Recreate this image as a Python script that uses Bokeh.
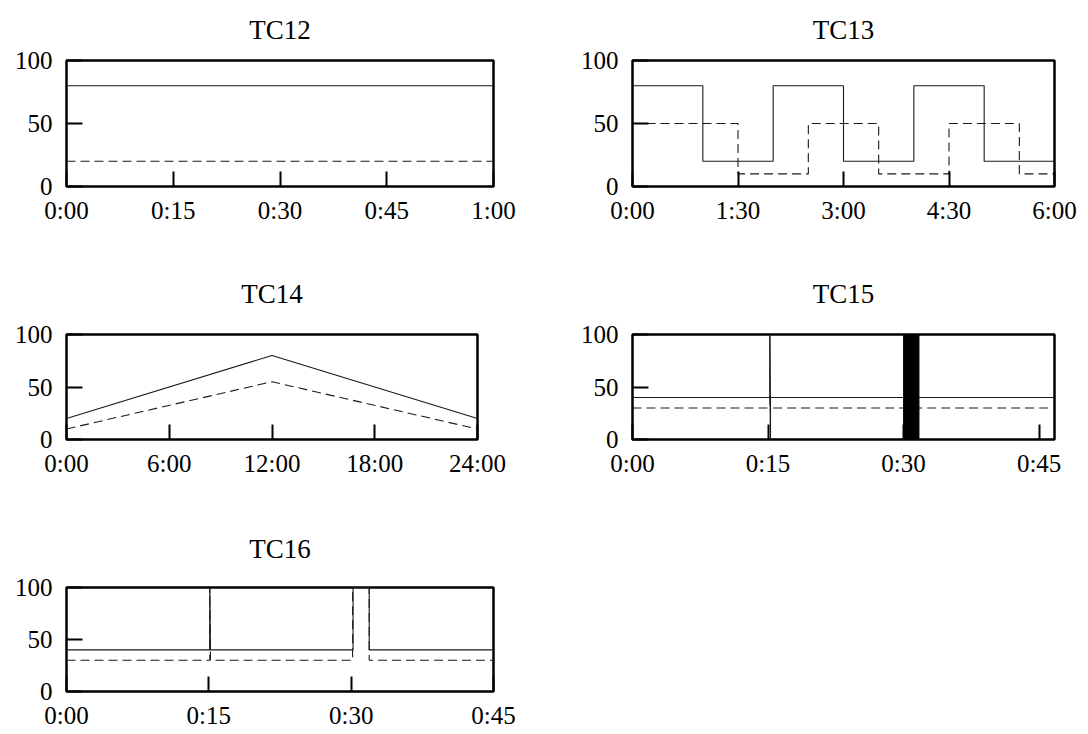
from bokeh.plotting import figure
from bokeh.layouts import column, row
from bokeh.models import Range1d, FixedTicker
from bokeh.embed import file_html
from bokeh.resources import INLINE

# ---------------- data (x in minutes, y in %) ----------------
y_ticks = [0, 50, 100]

# TC12
tc12_t_solid = [0, 60]
tc12_v_solid = [80, 80]
tc12_t_dash = [0, 60]
tc12_v_dash = [20, 20]
tc12_ticks = [0, 15, 30, 45, 60]
tc12_labels = ["0:00", "0:15", "0:30", "0:45", "1:00"]

# TC13
tc13_t_solid = [0, 60, 60, 120, 120, 180, 180, 240, 240, 300, 300, 360]
tc13_v_solid = [80, 80, 20, 20, 80, 80, 20, 20, 80, 80, 20, 20]
tc13_t_dash = [0, 90, 90, 150, 150, 210, 210, 270, 270, 330, 330, 360]
tc13_v_dash = [50, 50, 10, 10, 50, 50, 10, 10, 50, 50, 10, 10]
tc13_ticks = [0, 90, 180, 270, 360]
tc13_labels = ["0:00", "1:30", "3:00", "4:30", "6:00"]

# TC14
tc14_t_solid = [0, 720, 1440]
tc14_v_solid = [20, 80, 20]
tc14_t_dash = [0, 720, 1440]
tc14_v_dash = [10, 55, 10]
tc14_ticks = [0, 360, 720, 1080, 1440]
tc14_labels = ["0:00", "6:00", "12:00", "18:00", "24:00"]

# TC15
tc15_t_solid = [0, 15.2, 15.2, 15.27, 15.27, 30.0, 31.7, 46.7]
tc15_v_solid = [40, 40, 100, 0, 40, 40, 40, 40]
tc15_t_dash = [0, 15.2, 15.2, 15.27, 15.27, 30.0, 31.7, 46.7]
tc15_v_dash = [30, 30, 100, 0, 30, 30, 30, 30]
tc15_burst_start = [30.0]
tc15_burst_end = [31.7]
tc15_burst_low = [0]
tc15_burst_high = [100]
tc15_ticks = [0, 15, 30, 45]
tc15_labels = ["0:00", "0:15", "0:30", "0:45"]

# TC16
tc16_t_solid = [0, 15.1, 15.1, 15.17, 30.2, 30.2, 31.9, 31.9, 45]
tc16_v_solid = [40, 40, 100, 40, 40, 100, 100, 40, 40]
tc16_t_dash = [0, 15.1, 15.1, 15.17, 30.15, 30.15, 31.9, 31.9, 45]
tc16_v_dash = [30, 30, 100, 30, 30, 100, 100, 30, 30]
tc16_ticks = [0, 15, 30, 45]
tc16_labels = ["0:00", "0:15", "0:30", "0:45"]

FONT = "Liberation Serif"
LINE = "#1a1a1a"


def make_fig(title, x_end, ticks, labels, width, height, left, right, top, bottom, standoff):
    p = figure(width=width, height=height, output_backend="svg", toolbar_location=None,
               x_range=Range1d(0, x_end), y_range=Range1d(0, 100),
               min_border_left=left, min_border_right=right,
               min_border_top=top, min_border_bottom=bottom)
    p.title.text = title
    p.title.align = "center"
    p.title.vertical_align = "top"
    p.title.text_font = FONT
    p.title.text_font_size = "27px"
    p.title.text_font_style = "normal"
    p.title.text_color = "black"
    p.title.standoff = standoff
    p.xgrid.visible = False
    p.ygrid.visible = False
    p.outline_line_color = "black"
    p.outline_line_width = 2.5
    p.background_fill_color = "white"
    p.border_fill_color = "white"

    p.xaxis.ticker = FixedTicker(ticks=ticks)
    p.xaxis.major_label_overrides = {t: l for t, l in zip(ticks, labels)}
    p.yaxis.ticker = FixedTicker(ticks=y_ticks)
    for ax in (p.xaxis, p.yaxis):
        ax.axis_line_color = None
        ax.major_tick_line_color = "black"
        ax.major_tick_line_width = 2
        ax.major_tick_out = 0
        ax.minor_tick_line_color = None
        ax.major_label_text_font = FONT
        ax.major_label_text_font_size = "25px"
        ax.major_label_text_color = "black"
    p.xaxis.major_tick_in = 15
    p.yaxis.major_tick_in = 16
    p.xaxis.major_label_standoff = 10
    p.yaxis.major_label_standoff = 14
    return p


def add_lines(p, ts, vs, td, vd):
    p.line(ts, vs, line_color=LINE, line_width=1.1)
    p.line(td, vd, line_color=LINE, line_width=1.1, line_dash="9 5")


# Row 1
p12 = make_fig("TC12", 60, tc12_ticks, tc12_labels, 520, 242, 66, 27, 60, 56, 28)
add_lines(p12, tc12_t_solid, tc12_v_solid, tc12_t_dash, tc12_v_dash)
p13 = make_fig("TC13", 360, tc13_ticks, tc13_labels, 560, 242, 112, 26, 60, 56, 28)
add_lines(p13, tc13_t_solid, tc13_v_solid, tc13_t_dash, tc13_v_dash)

# Row 2
p14 = make_fig("TC14", 1440, tc14_ticks, tc14_labels, 508, 253, 66, 31, 92, 56, 47)
add_lines(p14, tc14_t_solid, tc14_v_solid, tc14_t_dash, tc14_v_dash)
p15 = make_fig("TC15", 46.7, tc15_ticks, tc15_labels, 572, 253, 124, 26, 92, 56, 47)
add_lines(p15, tc15_t_solid, tc15_v_solid, tc15_t_dash, tc15_v_dash)
p15.quad(left=tc15_burst_start, right=tc15_burst_end, bottom=tc15_burst_low,
         top=tc15_burst_high, fill_color="black", line_color="black")

# Row 3
p16 = make_fig("TC16", 45, tc16_ticks, tc16_labels, 520, 236, 66, 27, 92, 40, 43)
add_lines(p16, tc16_t_solid, tc16_v_solid, tc16_t_dash, tc16_v_dash)

layout = column(row(p12, p13), row(p14, p15), row(p16))
open("out.html", "w").write(file_html(layout, INLINE))
